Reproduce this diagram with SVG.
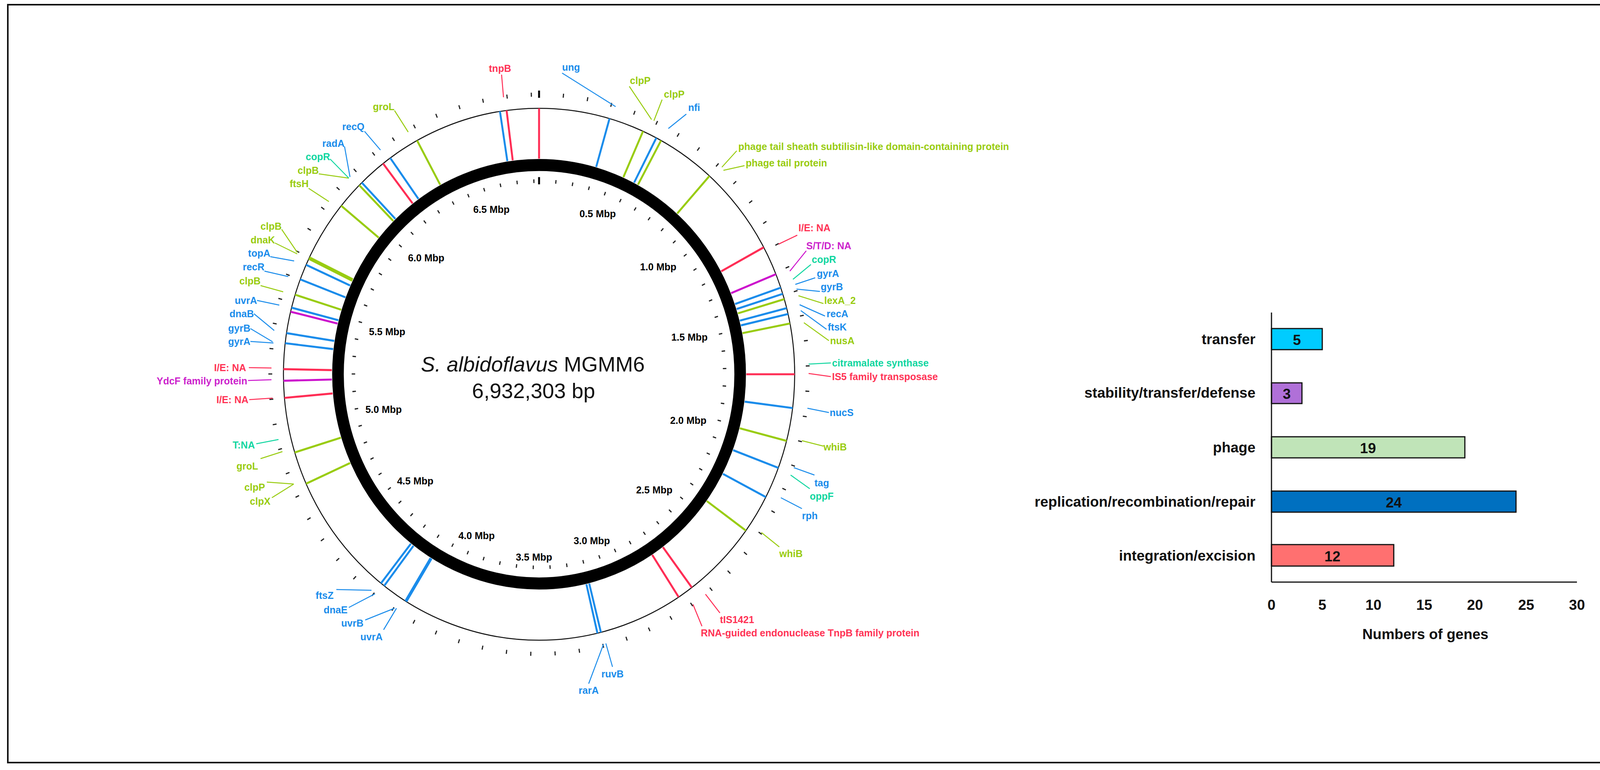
<svg xmlns="http://www.w3.org/2000/svg" width="4135" height="1971" viewBox="0 0 4135 1971">
<style>
text{font-family:"Liberation Sans",Arial,sans-serif;dominant-baseline:central}
.l{font-size:25px;font-weight:bold}
.m{font-size:25px;font-weight:bold;fill:#000;text-anchor:middle}
.R{fill:#FF3355}.B{fill:#1A8CEB}.G{fill:#99CC11}.T{fill:#11D6A0}.M{fill:#CC22CC}
.e{text-anchor:end}.c{text-anchor:middle}
.gr{stroke:#FF2D55}.gb{stroke:#1A8CEB}.gg{stroke:#99CC11}.gm{stroke:#CC11CC}
#genes line{stroke-width:5}
#connectors line{stroke-width:2.5}
.bl{font-size:37px;font-weight:bold;fill:#111}
</style>
<rect x="0" y="0" width="4135" height="1971" fill="#fff"/>
<rect x="20" y="12" width="4095" height="1940" fill="none" stroke="#111" stroke-width="4"/>
<g id="map" transform="translate(1380,958) scale(0.99,1.03)">
<circle r="520" fill="none" stroke="#000" stroke-width="30"/>
<circle r="661" fill="none" stroke="#111" stroke-width="2.5"/>
<circle r="695" fill="none" stroke="#222" stroke-width="10" stroke-dasharray="3 59.99" stroke-dashoffset="1.5" transform="rotate(-90)"/>
<circle r="480" fill="none" stroke="#222" stroke-width="9" stroke-dasharray="3 40.51" stroke-dashoffset="1.5" transform="rotate(-90)"/>
<line x1="0" y1="-687" x2="0" y2="-705" stroke="#000" stroke-width="5"/>
<line x1="0" y1="-472" x2="0" y2="-490" stroke="#000" stroke-width="5"/>
<g id="genes">
<line class="gb" x1="0" y1="-536" x2="0" y2="-661" transform="rotate(-8.8)"/>
<line class="gr" x1="0" y1="-536" x2="0" y2="-661" transform="rotate(-7.3)"/>
<line class="gr" x1="0" y1="-536" x2="0" y2="-661"/>
<line class="gb" x1="0" y1="-536" x2="0" y2="-661" transform="rotate(16)"/>
<line class="gg" x1="0" y1="-536" x2="0" y2="-661" transform="rotate(24)"/>
<line class="gb" x1="0" y1="-536" x2="0" y2="-661" transform="rotate(27.3)"/>
<line class="gg" x1="0" y1="-536" x2="0" y2="-661" transform="rotate(28.5)"/>
<line class="gg" x1="0" y1="-536" x2="0" y2="-661" transform="rotate(41.8)"/>
<line class="gr" x1="0" y1="-536" x2="0" y2="-661" transform="rotate(61.5)"/>
<line class="gm" x1="0" y1="-536" x2="0" y2="-661" transform="rotate(67.9)"/>
<line class="gb" x1="0" y1="-536" x2="0" y2="-661" transform="rotate(71)"/>
<line class="gb" x1="0" y1="-536" x2="0" y2="-661" transform="rotate(72.4)"/>
<line class="gg" x1="0" y1="-536" x2="0" y2="-661" transform="rotate(73.6)"/>
<line class="gb" x1="0" y1="-536" x2="0" y2="-661" transform="rotate(75.6)"/>
<line class="gb" x1="0" y1="-536" x2="0" y2="-661" transform="rotate(76.9)"/>
<line class="gg" x1="0" y1="-536" x2="0" y2="-661" transform="rotate(79)"/>
<line class="gr" x1="0" y1="-536" x2="0" y2="-661" transform="rotate(90)"/>
<line class="gb" x1="0" y1="-536" x2="0" y2="-661" transform="rotate(97.3)"/>
<line class="gg" x1="0" y1="-536" x2="0" y2="-661" transform="rotate(104.5)"/>
<line class="gb" x1="0" y1="-536" x2="0" y2="-661" transform="rotate(110.6)"/>
<line class="gb" x1="0" y1="-536" x2="0" y2="-661" transform="rotate(117.5)"/>
<line class="gg" x1="0" y1="-536" x2="0" y2="-661" transform="rotate(126)"/>
<line class="gr" x1="0" y1="-536" x2="0" y2="-661" transform="rotate(143.3)"/>
<line class="gr" x1="0" y1="-536" x2="0" y2="-661" transform="rotate(146.9)"/>
<line class="gb" x1="0" y1="-536" x2="0" y2="-661" transform="rotate(166)"/>
<line class="gb" x1="0" y1="-536" x2="0" y2="-661" transform="rotate(166.8)"/>
<line class="gb" x1="0" y1="-536" x2="0" y2="-661" transform="rotate(211.4)" style="stroke-width:8"/>
<line class="gb" x1="0" y1="-536" x2="0" y2="-661" transform="rotate(217.3)"/>
<line class="gb" x1="0" y1="-536" x2="0" y2="-661" transform="rotate(218.2)"/>
<line class="gg" x1="0" y1="-536" x2="0" y2="-661" transform="rotate(245.7)"/>
<line class="gg" x1="0" y1="-536" x2="0" y2="-661" transform="rotate(252.9)"/>
<line class="gr" x1="0" y1="-536" x2="0" y2="-661" transform="rotate(264.9)"/>
<line class="gm" x1="0" y1="-536" x2="0" y2="-661" transform="rotate(268.6)"/>
<line class="gr" x1="0" y1="-536" x2="0" y2="-661" transform="rotate(271.1)"/>
<line class="gb" x1="0" y1="-536" x2="0" y2="-661" transform="rotate(276.7)"/>
<line class="gb" x1="0" y1="-536" x2="0" y2="-661" transform="rotate(278.9)"/>
<line class="gm" x1="0" y1="-536" x2="0" y2="-661" transform="rotate(283.6)"/>
<line class="gb" x1="0" y1="-536" x2="0" y2="-661" transform="rotate(284.5)"/>
<line class="gg" x1="0" y1="-536" x2="0" y2="-661" transform="rotate(287.4)"/>
<line class="gb" x1="0" y1="-536" x2="0" y2="-661" transform="rotate(290.9)"/>
<line class="gb" x1="0" y1="-536" x2="0" y2="-661" transform="rotate(294.3)"/>
<line class="gg" x1="0" y1="-536" x2="0" y2="-661" transform="rotate(295.9)" style="stroke-width:9"/>
<line class="gg" x1="0" y1="-536" x2="0" y2="-661" transform="rotate(309.3)"/>
<line class="gg" x1="0" y1="-536" x2="0" y2="-661" transform="rotate(315.3)"/>
<line class="gb" x1="0" y1="-536" x2="0" y2="-661" transform="rotate(316.1)"/>
<line class="gr" x1="0" y1="-536" x2="0" y2="-661" transform="rotate(322.4)"/>
<line class="gb" x1="0" y1="-536" x2="0" y2="-661" transform="rotate(324.4)"/>
<line class="gg" x1="0" y1="-536" x2="0" y2="-661" transform="rotate(331.5)"/>
</g>
</g>
<g id="title">
<text x="1364" y="932" font-size="54" text-anchor="middle" fill="#111"><tspan font-style="italic">S. albidoflavus</tspan> MGMM6</text>
<text x="1366" y="1000" font-size="54" text-anchor="middle" fill="#111">6,932,303 bp</text>
</g>
<g id="scale">
<text class="m" x="1258" y="536">6.5 Mbp</text><text class="m" x="1530" y="547">0.5 Mbp</text>
<text class="m" x="1091" y="660">6.0 Mbp</text><text class="m" x="1685" y="683">1.0 Mbp</text>
<text class="m" x="991" y="849">5.5 Mbp</text><text class="m" x="1765" y="863">1.5 Mbp</text>
<text class="m" x="982" y="1048">5.0 Mbp</text><text class="m" x="1762" y="1076">2.0 Mbp</text>
<text class="m" x="1063" y="1231">4.5 Mbp</text><text class="m" x="1675" y="1254">2.5 Mbp</text>
<text class="m" x="1220" y="1371">4.0 Mbp</text><text class="m" x="1515" y="1384">3.0 Mbp</text>
<text class="m" x="1367" y="1426">3.5 Mbp</text>
</g>
<g id="connectors">
<line class="gr" x1="1284" y1="191" x2="1289" y2="249"/>
<line class="gb" x1="1439" y1="187" x2="1576" y2="273"/>
<line class="gg" x1="1611" y1="221" x2="1668" y2="306"/>
<line class="gg" x1="1695" y1="255" x2="1674" y2="309"/>
<line class="gb" x1="1757" y1="292" x2="1711" y2="329"/>
<line class="gg" x1="1886" y1="386" x2="1848" y2="428"/>
<line class="gg" x1="1906" y1="424" x2="1852" y2="436"/>
<line class="gr" x1="2041" y1="602" x2="1993" y2="625"/>
<line class="gm" x1="2064" y1="642" x2="2022" y2="694"/>
<line style="stroke:#11D6A0" x1="2076" y1="677" x2="2030" y2="715"/>
<line class="gb" x1="2087" y1="711" x2="2036" y2="728"/>
<line class="gb" x1="2099" y1="746" x2="2039" y2="740"/>
<line class="gg" x1="2108" y1="777" x2="2044" y2="757"/>
<line class="gb" x1="2112" y1="809" x2="2047" y2="780"/>
<line class="gb" x1="2116" y1="843" x2="2050" y2="795"/>
<line class="gg" x1="2122" y1="872" x2="2058" y2="826"/>
<line style="stroke:#11D6A0" x1="2127" y1="929" x2="2070" y2="932"/>
<line class="gr" x1="2127" y1="964" x2="2070" y2="956"/>
<line class="gb" x1="2122" y1="1056" x2="2067" y2="1045"/>
<line class="gg" x1="2108" y1="1142" x2="2053" y2="1128"/>
<line class="gb" x1="2085" y1="1216" x2="2032" y2="1197"/>
<line style="stroke:#11D6A0" x1="2073" y1="1251" x2="2024" y2="1216"/>
<line class="gb" x1="2053" y1="1302" x2="1999" y2="1274"/>
<line class="gg" x1="1995" y1="1400" x2="1949" y2="1363"/>
<line class="gr" x1="1843" y1="1569" x2="1806" y2="1521"/>
<line class="gr" x1="1797" y1="1603" x2="1774" y2="1547"/>
<line class="gb" x1="1568" y1="1707" x2="1551" y2="1647"/>
<line class="gb" x1="1507" y1="1750" x2="1545" y2="1649"/>
<line class="gb" x1="982" y1="1612" x2="1015" y2="1557"/>
<line class="gb" x1="935" y1="1587" x2="1010" y2="1557"/>
<line class="gb" x1="893" y1="1555" x2="960" y2="1520"/>
<line class="gb" x1="861" y1="1509" x2="951" y2="1511"/>
<line class="gg" x1="696" y1="1274" x2="752" y2="1239"/>
<line class="gg" x1="683" y1="1234" x2="752" y2="1239"/>
<line class="gg" x1="667" y1="1174" x2="723" y2="1156"/>
<line style="stroke:#11D6A0" x1="656" y1="1136" x2="713" y2="1125"/>
<line class="gr" x1="638" y1="1023" x2="698" y2="1019"/>
<line class="gm" x1="635" y1="974" x2="695" y2="972"/>
<line class="gr" x1="637" y1="941" x2="695" y2="942"/>
<line class="gb" x1="641" y1="874" x2="700" y2="878"/>
<line class="gb" x1="641" y1="841" x2="698" y2="875"/>
<line class="gb" x1="650" y1="803" x2="702" y2="846"/>
<line class="gb" x1="658" y1="769" x2="715" y2="781"/>
<line class="gg" x1="667" y1="731" x2="725" y2="747"/>
<line class="gb" x1="677" y1="694" x2="738" y2="708"/>
<line class="gb" x1="692" y1="657" x2="753" y2="668"/>
<line class="gg" x1="704" y1="622" x2="761" y2="650"/>
<line class="gg" x1="721" y1="587" x2="761" y2="646"/>
<line class="gg" x1="790" y1="482" x2="842" y2="516"/>
<line class="gg" x1="816" y1="445" x2="893" y2="456"/>
<line style="stroke:#11D6A0" x1="845" y1="407" x2="893" y2="456"/>
<line class="gb" x1="882" y1="375" x2="896" y2="453"/>
<line class="gb" x1="933" y1="336" x2="974" y2="384"/>
<line class="gg" x1="1010" y1="283" x2="1045" y2="338"/>
</g>
<g id="labels">
<text class="l R c" x="1280" y="175">tnpB</text>
<text class="l B c" x="1462" y="172">ung</text>
<text class="l G c" x="1639" y="206">clpP</text>
<text class="l G c" x="1726" y="241">clpP</text>
<text class="l B c" x="1777" y="275">nfi</text>
<text class="l G" x="1890" y="375">phage tail sheath subtilisin-like domain-containing protein</text>
<text class="l G" x="1909" y="417">phage tail protein</text>
<text class="l R" x="2044" y="583">I/E: NA</text>
<text class="l M" x="2064" y="629">S/T/D: NA</text>
<text class="l T" x="2078" y="664">copR</text>
<text class="l B" x="2091" y="700">gyrA</text>
<text class="l B" x="2101" y="734">gyrB</text>
<text class="l G" x="2110" y="769">lexA_2</text>
<text class="l B" x="2116" y="803">recA</text>
<text class="l B" x="2119" y="837">ftsK</text>
<text class="l G" x="2125" y="872">nusA</text>
<text class="l T" x="2130" y="929">citramalate synthase</text>
<text class="l R" x="2130" y="964">IS5 family transposase</text>
<text class="l B" x="2124" y="1056">nucS</text>
<text class="l G" x="2108" y="1144">whiB</text>
<text class="l B" x="2085" y="1236">tag</text>
<text class="l T" x="2073" y="1270">oppF</text>
<text class="l B" x="2053" y="1320">rph</text>
<text class="l G" x="1995" y="1417">whiB</text>
<text class="l R" x="1843" y="1586">tIS1421</text>
<text class="l R" x="1794" y="1620">RNA-guided endonuclease TnpB family protein</text>
<text class="l B c" x="1568" y="1725">ruvB</text>
<text class="l B c" x="1507" y="1767">rarA</text>
<text class="l B c" x="951" y="1630">uvrA</text>
<text class="l B c" x="902" y="1595">uvrB</text>
<text class="l B c" x="859" y="1561">dnaE</text>
<text class="l B c" x="831" y="1524">ftsZ</text>
<text class="l G c" x="666" y="1283">clpX</text>
<text class="l G c" x="652" y="1247">clpP</text>
<text class="l G c" x="633" y="1193">groL</text>
<text class="l T c" x="624" y="1139">T:NA</text>
<text class="l R e" x="636" y="1023">I/E: NA</text>
<text class="l M e" x="633" y="975">YdcF family protein</text>
<text class="l R e" x="630" y="941">I/E: NA</text>
<text class="l B e" x="641" y="874">gyrA</text>
<text class="l B e" x="641" y="840">gyrB</text>
<text class="l B e" x="650" y="803">dnaB</text>
<text class="l B e" x="658" y="769">uvrA</text>
<text class="l G e" x="667" y="719">clpB</text>
<text class="l B e" x="677" y="683">recR</text>
<text class="l B e" x="692" y="648">topA</text>
<text class="l G e" x="704" y="614">dnaK</text>
<text class="l G e" x="721" y="579">clpB</text>
<text class="l G e" x="790" y="470">ftsH</text>
<text class="l G e" x="816" y="436">clpB</text>
<text class="l T e" x="845" y="401">copR</text>
<text class="l B e" x="882" y="367">radA</text>
<text class="l B e" x="933" y="324">recQ</text>
<text class="l G e" x="1010" y="273">groL</text>
</g>
<g id="chart">
<rect x="3255" y="841" width="130" height="54" fill="#00CCFF" stroke="#111" stroke-width="3"/>
<rect x="3255" y="980" width="78" height="53" fill="#B070D8" stroke="#111" stroke-width="3"/>
<rect x="3255" y="1118" width="495" height="54" fill="#C0E4B8" stroke="#111" stroke-width="3"/>
<rect x="3255" y="1257" width="626" height="54" fill="#0070C0" stroke="#111" stroke-width="3"/>
<rect x="3255" y="1394" width="313" height="55" fill="#FF7070" stroke="#111" stroke-width="3"/>
<line x1="3255" y1="800" x2="3255" y2="1490" stroke="#111" stroke-width="3"/>
<line x1="3255" y1="1490" x2="4037" y2="1490" stroke="#111" stroke-width="3"/>
<text class="bl" x="3320" y="870" text-anchor="middle">5</text>
<text class="bl" x="3294" y="1008" text-anchor="middle">3</text>
<text class="bl" x="3502" y="1147" text-anchor="middle">19</text>
<text class="bl" x="3568" y="1286" text-anchor="middle">24</text>
<text class="bl" x="3411" y="1424" text-anchor="middle">12</text>
<text class="bl" x="3214" y="868" text-anchor="end">transfer</text>
<text class="bl" x="3214" y="1005" text-anchor="end">stability/transfer/defense</text>
<text class="bl" x="3214" y="1145" text-anchor="end">phage</text>
<text class="bl" x="3214" y="1284" text-anchor="end">replication/recombination/repair</text>
<text class="bl" x="3214" y="1422" text-anchor="end">integration/excision</text>
<text class="bl" x="3255" y="1548" text-anchor="middle">0</text>
<text class="bl" x="3385" y="1548" text-anchor="middle">5</text>
<text class="bl" x="3516" y="1548" text-anchor="middle">10</text>
<text class="bl" x="3646" y="1548" text-anchor="middle">15</text>
<text class="bl" x="3776" y="1548" text-anchor="middle">20</text>
<text class="bl" x="3907" y="1548" text-anchor="middle">25</text>
<text class="bl" x="4037" y="1548" text-anchor="middle">30</text>
<text class="bl" x="3649" y="1623" text-anchor="middle">Numbers of genes</text>
</g>
</svg>
